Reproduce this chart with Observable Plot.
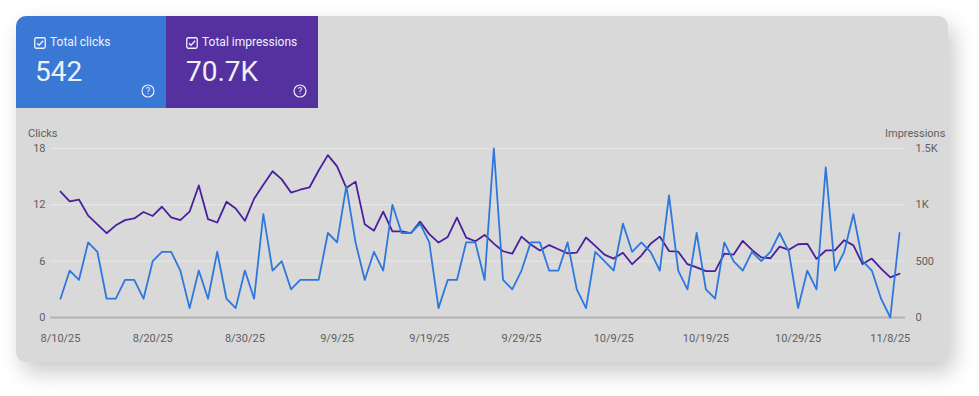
<!DOCTYPE html>
<html>
<head>
<meta charset="utf-8">
<script src="https://cdn.jsdelivr.net/npm/d3@7"></script>
<script src="https://cdn.jsdelivr.net/npm/@observablehq/plot@0.6"></script>
<style>
  html, body { margin: 0; padding: 0; background: #ffffff; width: 979px; height: 396px; overflow: hidden; font-family: Roboto, "Noto Sans", sans-serif; }
  #page { position: relative; width: 979px; height: 396px; }
  #card { position: absolute; left: 16px; top: 16px; width: 932px; height: 346px; background: #d9d9d9; border-radius: 10px; box-shadow: 6px 10px 22px rgba(0,0,0,0.22); overflow: hidden; }
  .tile { position: absolute; top: 0; height: 92px; color: #eef0f8; }
  #tile-clicks { left: 0; width: 150px; background: #3a78d6; }
  #tile-imps { left: 150px; width: 152px; background: #55309f; }
  .tile .lbl { position: absolute; top: 20px; font-size: 12px; line-height: 12px; white-space: nowrap; }
  .tile .num { position: absolute; top: 42px; font-size: 28px; line-height: 28px; white-space: nowrap; }
  .tile svg.cb { position: absolute; top: 21px; }
  .tile svg.help { position: absolute; top: 68px; }
  .axlabel { position: absolute; top: 128px; font-size: 11px; line-height: 12px; color: #5f5f5f; white-space: nowrap; }
  #chart { position: absolute; left: 0; top: 0; }
</style>
</head>
<body>
<div id="page">
  <div id="card">
    <div class="tile" id="tile-clicks">
      <svg class="cb" style="left:18px" width="12" height="12" viewBox="0 0 12 12"><rect x="0.75" y="0.75" width="10.5" height="10.5" rx="1.5" fill="none" stroke="#eef0f8" stroke-width="1.3"/><path d="M3 6.2 L5 8.2 L9.2 3.8" fill="none" stroke="#eef0f8" stroke-width="1.4"/></svg>
      <div class="lbl" style="left:34px">Total clicks</div>
      <div class="num" style="left:19px">542</div>
      <svg class="help" style="left:125px" width="14" height="14" viewBox="0 0 14 14"><circle cx="7" cy="7" r="6" fill="none" stroke="#eef0f8" stroke-width="1.2"/><text x="7" y="10.3" text-anchor="middle" font-size="9.5" font-family="Roboto" fill="#eef0f8">?</text></svg>
    </div>
    <div class="tile" id="tile-imps">
      <svg class="cb" style="left:20px" width="12" height="12" viewBox="0 0 12 12"><rect x="0.75" y="0.75" width="10.5" height="10.5" rx="1.5" fill="none" stroke="#eef0f8" stroke-width="1.3"/><path d="M3 6.2 L5 8.2 L9.2 3.8" fill="none" stroke="#eef0f8" stroke-width="1.4"/></svg>
      <div class="lbl" style="left:36px">Total impressions</div>
      <div class="num" style="left:20px">70.7K</div>
      <svg class="help" style="left:127px" width="14" height="14" viewBox="0 0 14 14"><circle cx="7" cy="7" r="6" fill="none" stroke="#eef0f8" stroke-width="1.2"/><text x="7" y="10.3" text-anchor="middle" font-size="9.5" font-family="Roboto" fill="#eef0f8">?</text></svg>
    </div>
  </div>
  <div class="axlabel" style="left:28px">Clicks</div>
  <div class="axlabel" style="left:885px">Impressions</div>
  <div id="chart"></div>
</div>
<script>
// ---- data ----
const startDate = "2025-08-10";
const clicks = [
  2,5,4,8,7,2,2,4,4,2,
  6,7,7,5,1,5,2,7,2,1,
  5,2,11,5,6,3,4,4,4,9,
  8,14,8,4,7,5,12,9,9,10,
  8,1,4,4,8,8,4,18,4,3,
  5,8,8,5,5,8,3,1,7,6,
  5,10,7,8,7,5,13,5,3,9,
  3,2,8,6,5,7,6,7,9,7,
  1,5,3,16,5,7,11,6,5,2,
  0,9
];
const impressions = [
  1118,1031,1047,904,827,748,818,864,879,936,
  901,983,889,864,939,1172,873,843,1027,967,
  858,1054,1179,1298,1226,1109,1134,1154,1305,1441,
  1341,1150,1206,827,771,940,765,765,748,851,
  740,665,715,886,709,677,733,656,588,566,
  718,648,594,643,606,569,576,710,635,558,
  523,575,473,550,655,718,590,584,473,445,
  411,411,567,558,681,600,534,526,629,601,
  650,654,520,595,595,686,640,474,523,434,
  356,388
];
const clickTicks = [0, 6, 12, 18];
const impTicks = [0, 500, 1000, 1500];
const impTickLabels = ["0", "500", "1K", "1.5K"];
const xTickLabels = ["8/10/25","8/20/25","8/30/25","9/9/25","9/19/25","9/29/25","10/9/25","10/19/25","10/29/25","11/8/25"];

// ---- build ----
const blue = "#2e77dd";
const purple = "#4a1f9d";
const clickMax = clickTicks[clickTicks.length - 1];
const impMax = impTicks[impTicks.length - 1];
const toClickScale = v => v * clickMax / impMax;

const start = new Date(startDate + "T00:00:00Z");
const data = clicks.map((c, i) => ({ date: d3.utcDay.offset(start, i), clicks: c, impressions: impressions[i] }));

const parseTick = s => { const [m, d, y] = s.split("/").map(Number); return new Date(Date.UTC(2000 + y, m - 1, d)); };
const xTicks = xTickLabels.map(parseTick);
const xLabelMap = new Map(xTicks.map((d, i) => [+d, xTickLabels[i]]));
const rightTicks = impTicks.map(toClickScale);
const rightLabelMap = new Map(rightTicks.map((v, i) => [v, impTickLabels[i]]));

const chart = Plot.plot({
  width: 979,
  height: 396,
  marginLeft: 50,
  marginRight: 74,
  marginTop: 148,
  marginBottom: 79,
  x: { type: "utc", domain: [data[0].date, data[data.length - 1].date], insetLeft: 10, insetRight: 6 },
  y: { domain: [0, clickMax] },
  style: { background: "transparent", fontFamily: "Roboto, sans-serif", fontSize: "11px", color: "#5f5f5f", overflow: "visible" },
  marks: [
    Plot.gridY(clickTicks.filter(d => d > 0), { stroke: "#e4e4e4", strokeOpacity: 1, strokeWidth: 1.5 }),
    Plot.ruleY([0], { stroke: "#b3b3b3", strokeWidth: 2 }),
    Plot.axisX(xTicks, { anchor: "bottom", tickSize: 0, tickPadding: 17, tickFormat: d => xLabelMap.get(+d), label: null }),
    Plot.axisY(clickTicks, { anchor: "left", tickSize: 0, tickPadding: 5, label: null }),
    Plot.axisY(rightTicks, { anchor: "right", tickSize: 0, tickPadding: 10, tickFormat: d => rightLabelMap.get(d), label: null }),
    Plot.line(data, { x: "date", y: d => toClickScale(d.impressions), stroke: purple, strokeWidth: 1.8 }),
    Plot.line(data, { x: "date", y: "clicks", stroke: blue, strokeWidth: 1.8 })
  ]
});
document.getElementById("chart").appendChild(chart);
</script>
</body>
</html>
